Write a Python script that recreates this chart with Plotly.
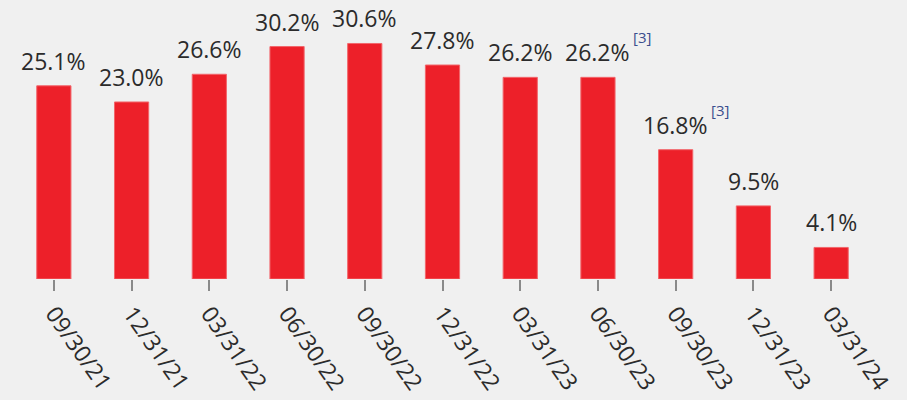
import plotly.graph_objects as go

categories = ["09/30/21", "12/31/21", "03/31/22", "06/30/22", "09/30/22", "12/31/22",
              "03/31/23", "06/30/23", "09/30/23", "12/31/23", "03/31/24"]
values = [25.1, 23.0, 26.6, 30.2, 30.6, 27.8, 26.2, 26.2, 16.8, 9.5, 4.1]
value_labels = ["25.1%", "23.0%", "26.6%", "30.2%", "30.6%", "27.8%", "26.2%", "26.2%", "16.8%", "9.5%", "4.1%"]
footnote_categories = ["06/30/23", "09/30/23"]
footnote_text = "[3]"

BG = "#f0f0f0"
RED = "#ed2029"
TXT = "#2b2b2b"
FN = "#3a4e8e"
FONT = "Open Sans"

fig = go.Figure()
fig.add_trace(go.Bar(
    x=categories, y=values,
    marker=dict(color=RED, line=dict(color="#f2666b", width=1)),
    hoverinfo="skip",
))

for c, v, t in zip(categories, values, value_labels):
    fig.add_annotation(x=c, y=v, text=t, showarrow=False, yanchor="bottom",
                       yshift=7, font=dict(family=FONT, size=23, color=TXT))

for c in footnote_categories:
    v = values[categories.index(c)]
    fig.add_annotation(x=c, y=v, text=footnote_text, showarrow=False,
                       xshift=44, yshift=40, font=dict(family=FONT, size=15, color=FN))

fig.update_layout(
    width=907, height=400,
    paper_bgcolor=BG, plot_bgcolor=BG,
    margin=dict(l=15, r=37, t=5, b=121, autoexpand=False),
    bargap=0.56,
    showlegend=False,
    font=dict(family=FONT, color=TXT),
)
fig.update_xaxes(
    type="category", showgrid=False, zeroline=False, showline=False,
    automargin=False,
    ticks="outside", ticklen=11, tickwidth=2, tickcolor="#8a8a8a",
    tickangle=55, tickfont=dict(family=FONT, size=23, color=TXT),
)
fig.update_yaxes(range=[0, 35.6], visible=False, showgrid=False, zeroline=False, automargin=False)

fig.write_html("out.html")
